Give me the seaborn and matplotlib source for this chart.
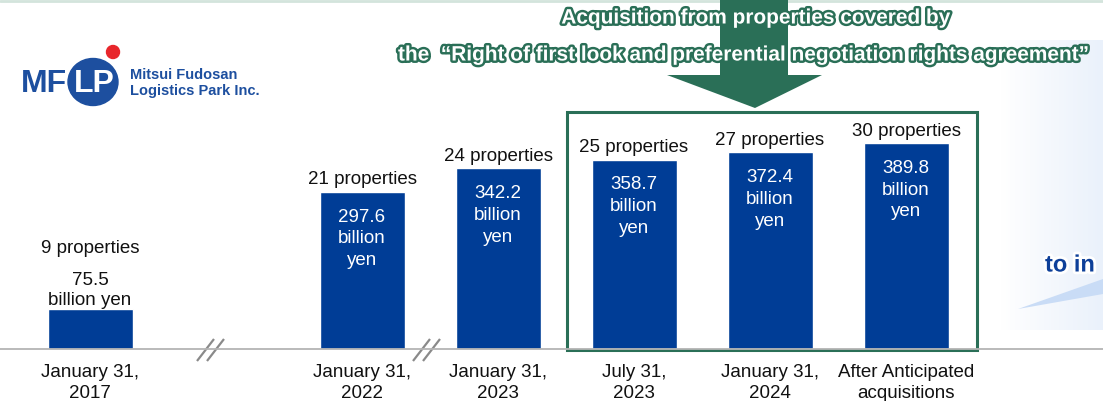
"""
MFLP asset size growth chart (bar chart with header arrow and logo)
"""

import numpy as np
import pandas as pd
import matplotlib.pyplot as plt
import matplotlib.patheffects as pe
from matplotlib.colors import LinearSegmentedColormap
from matplotlib.patches import Polygon, Rectangle, Ellipse, Circle
import seaborn as sns

# Data
dates = ['January 31,\n2017', 'January 31,\n2022', 'January 31,\n2023',
         'July 31,\n2023', 'January 31,\n2024', 'After Anticipated\nacquisitions']
asset_size = [75.5, 297.6, 342.2, 358.7, 372.4, 389.8]   # billion yen
properties = [9, 21, 24, 25, 27, 30]

header_1 = 'Acquisition from properties covered by'
header_2 = 'the  \u201cRight of first look and preferential negotiation rights agreement\u201d'

df = pd.DataFrame({'date': dates, 'size': asset_size, 'props': properties})

# empty slot between 2017 and 2022 (time axis break)
gap = ' '
order = [dates[0], gap] + dates[1:]

sns.set_style('white')
plt.rcParams['font.family'] = ['Liberation Sans', 'DejaVu Sans']

bar_color = '#003d96'
green = '#2a6f57'
fs = 13.5

W, H = 1103, 401
fig = plt.figure(figsize=(W / 100, H / 100), dpi=100)

# background / decoration axes in pixel coordinates
bg = fig.add_axes([0, 0, 1, 1])
bg.set_xlim(0, W)
bg.set_ylim(H, 0)
bg.axis('off')

# light blue panel on the right
grad = np.linspace(0, 1, 100)[None, :]
bg.imshow(grad, extent=(1000, W, 330, 40), aspect='auto', zorder=0,
          cmap=LinearSegmentedColormap.from_list('bgc', ['#ffffff', '#eaf1fb']))
bg.add_patch(Polygon([(1018, 309), (W, 279), (W, 294)], color='#c9dcf6', zorder=1, lw=0))
bg.text(1045, 265, 'to in', fontsize=17, fontweight='bold', color='#0d3f99', va='center',
        path_effects=[pe.withStroke(linewidth=4, foreground='white')], zorder=3)

# top thin line
bg.plot([0, W], [1, 1], color='#d3e4dc', lw=2, zorder=1)

# arrow
bg.add_patch(Polygon([(720, 0), (788, 0), (788, 75), (822, 75), (755, 108), (667, 75), (720, 75)],
                     color=green, lw=0, zorder=2))
stroke = [pe.withStroke(linewidth=3.5, foreground=green)]
hfont = ['Liberation Sans Narrow', 'Liberation Sans']
bg.text(757, 18, header_1, fontsize=15, fontweight='bold', color='white', family=hfont,
        ha='center', va='center', path_effects=stroke, zorder=4)
bg.text(398, 55, header_2, fontsize=15, fontweight='bold', color='white', family=hfont,
        ha='left', va='center', path_effects=stroke, zorder=4)

# green frame around the "right of first look" bars
bg.add_patch(Rectangle((567, 112), 410, 238, fill=False, edgecolor=green, lw=2.2, zorder=3))

# axis break marks
for x0 in (197, 413):
    for dx in (0, 10):
        bg.plot([x0 + dx, x0 + dx + 17], [361, 339], color='#8a8a8a', lw=1.6, zorder=3,
                solid_capstyle='butt')

# logo
logo_blue = '#1d4f9f'
bg.add_patch(Ellipse((93, 82), 50, 47, color=logo_blue, zorder=2))
bg.add_patch(Circle((113, 52), 6.5, color='#e8262b', zorder=2))
bg.text(21, 84, 'MF', fontsize=23, fontweight='bold', color=logo_blue, va='center', ha='left',
        zorder=3)
bg.text(74, 84, 'LP', fontsize=23, fontweight='bold', color='white', va='center', ha='left',
        zorder=3)
bg.text(130, 75, 'Mitsui Fudosan', fontsize=10.5, fontweight='bold', color=logo_blue,
        va='center', zorder=3)
bg.text(130, 91, 'Logistics Park Inc.', fontsize=10.5, fontweight='bold', color=logo_blue,
        va='center', zorder=3)

# main bar axes: bottom spine sits on the baseline
base_px = 349
ax = fig.add_axes([0, (H - base_px) / H, 1, base_px / H])
ax.set_facecolor('none')
sns.barplot(data=df, x='date', y='size', order=order, color=bar_color, width=0.625,
            saturation=1, ax=ax, zorder=2)

px_per_unit = 0.528
ax.set_ylim(0, base_px / px_per_unit)
ax.set_xlim(-90 / 136, (W - 90) / 136)
u = 1 / px_per_unit  # data units per pixel

for d, v, p in zip(dates, asset_size, properties):
    x = order.index(d)
    if v < 100:
        ax.text(x, v + 19 * u, f'{v}\nbillion yen', ha='center', va='center', fontsize=fs,
                linespacing=1.25, color='#111111')
        ax.text(x, v + 61 * u, f'{p} properties', ha='center', va='center',
                fontsize=fs, color='#111111')
    else:
        ax.text(x, v + 12 * u, f'{p} properties', ha='center', va='center', fontsize=fs,
                color='#111111')
        ax.text(x, v - 47 * u, f'{v}\nbillion\nyen', ha='center', va='center', fontsize=fs,
                linespacing=1.37, color='white')

sns.despine(ax=ax, left=True, top=True, right=True)
ax.spines['bottom'].set_color('#b4b4b4')
ax.spines['bottom'].set_linewidth(1.3)
ax.set_yticks([])
ax.set_xlabel('')
ax.set_ylabel('')
ax.set_xticks(range(len(order)))
ax.set_xticklabels(order, fontsize=fs, linespacing=1.32, color='#111111')
ax.tick_params(axis='x', length=0, pad=10.5)

plt.savefig('out.png', dpi=100)
print("Saved out.png")
